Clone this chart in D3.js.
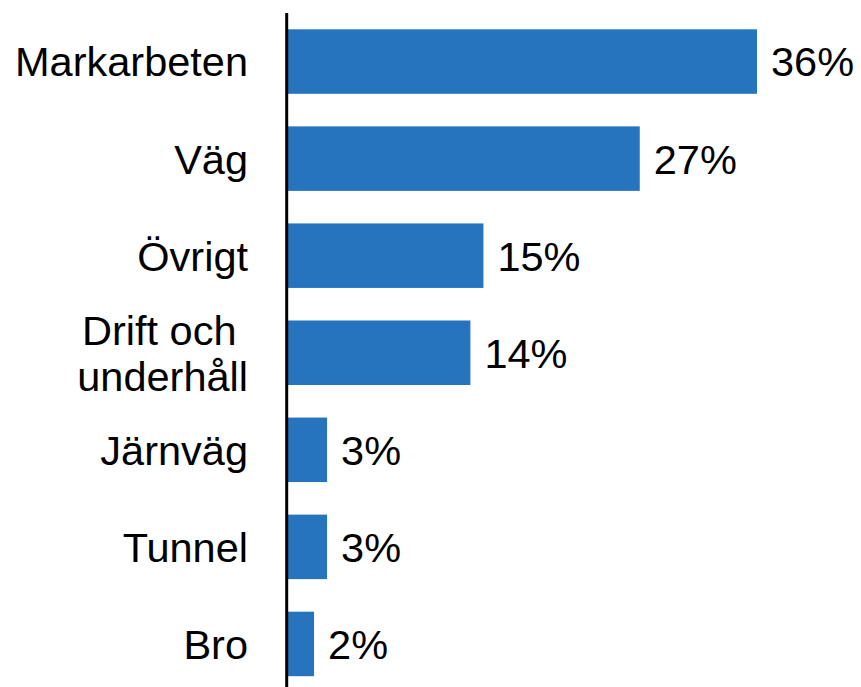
<!DOCTYPE html>
<html>
<head>
<meta charset="utf-8">
<script src="https://cdn.jsdelivr.net/npm/d3@7"></script>
<style>
  body { margin: 0; background: #fff; }
  svg text { font-family: "Liberation Sans", Arial, sans-serif; fill: #000; }
</style>
</head>
<body>
<div id="chart"></div>
<script>
// categories and values (percent)
const categories = ["Markarbeten", "Väg", "Övrigt", "Drift och underhåll", "Järnväg", "Tunnel", "Bro"];
const labelLines = [["Markarbeten"], ["Väg"], ["Övrigt"], ["Drift och\u00A0", "underhåll"], ["Järnväg"], ["Tunnel"], ["Bro"]];
const values = [36, 27, 15, 14, 3, 3, 2];

const width = 861, height = 687;
const fontSize = 41.5;

const svg = d3.select("#chart")
  .append("svg")
  .attr("width", width)
  .attr("height", height);

// x scale (percent -> pixels)
const x = d3.scaleLinear()
  .domain([0, 36])
  .range([288, 757]);

// y scale (bands)
const y = d3.scaleBand()
  .domain(categories)
  .range([13, 692.5])
  .paddingInner(0.3355)
  .paddingOuter(0.168);

// bars
svg.selectAll("rect.bar")
  .data(categories)
  .join("rect")
  .attr("class", "bar")
  .attr("x", x(0))
  .attr("y", d => y(d))
  .attr("width", (d, i) => x(values[i]) - x(0))
  .attr("height", y.bandwidth())
  .attr("fill", "#2574BD");

// value labels
svg.selectAll("text.val")
  .data(categories)
  .join("text")
  .attr("class", "val")
  .attr("x", (d, i) => x(values[i]) + 14)
  .attr("y", d => y(d) + y.bandwidth() / 2)
  .attr("dy", "0.36em")
  .attr("font-size", fontSize)
  .text((d, i) => values[i] + "%");

// category labels
const lineH = 46;
svg.selectAll("text.cat")
  .data(categories)
  .join("text")
  .attr("class", "cat")
  .attr("text-anchor", "end")
  .attr("font-size", fontSize)
  .each(function(d, i) {
    const lines = labelLines[i];
    const cy = y(d) + y.bandwidth() / 2;
    const t = d3.select(this);
    lines.forEach((ln, j) => {
      t.append("tspan")
        .attr("x", 248)
        .attr("y", cy + (j - (lines.length - 1) / 2) * lineH)
        .attr("dy", "0.36em")
        .text(ln);
    });
  });

// vertical axis line
svg.append("line")
  .attr("x1", 286.7).attr("x2", 286.7)
  .attr("y1", 13).attr("y2", height)
  .attr("stroke", "#000")
  .attr("stroke-width", 3);
</script>
</body>
</html>
